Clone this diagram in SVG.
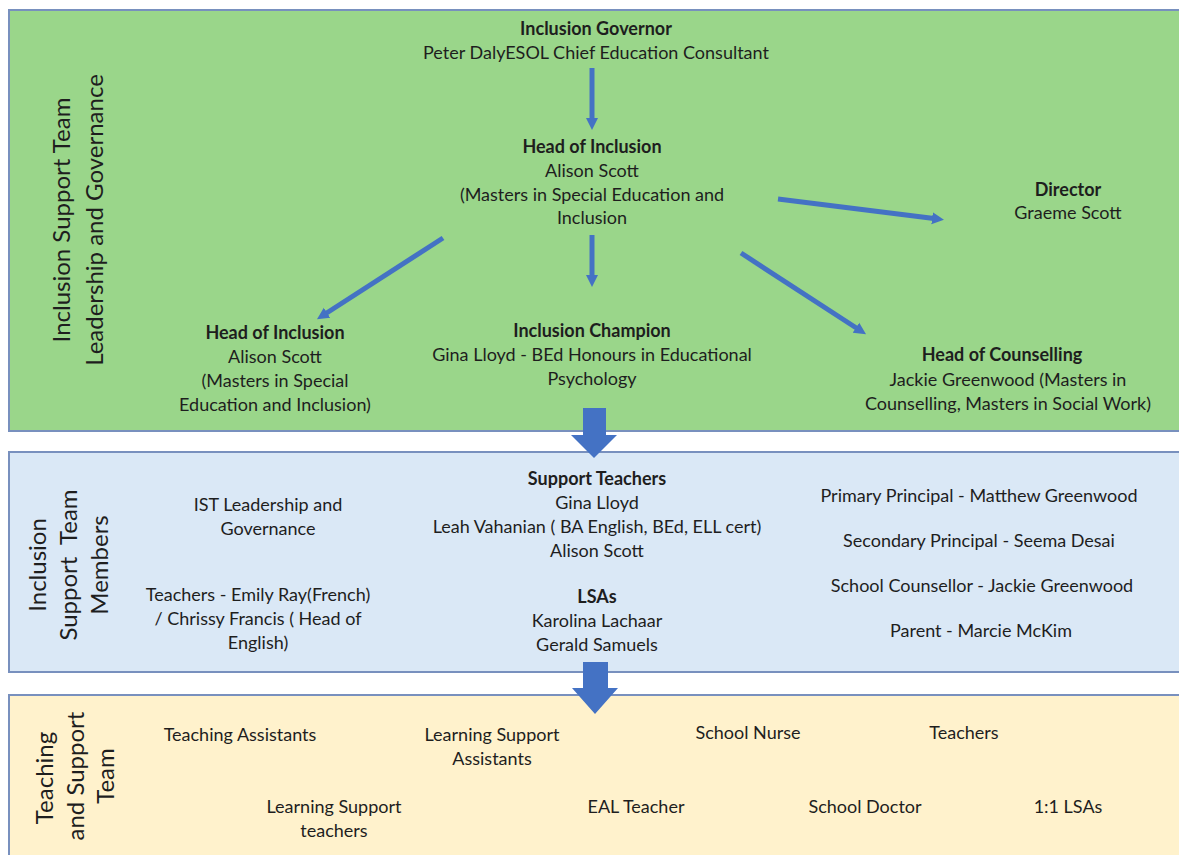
<svg xmlns="http://www.w3.org/2000/svg" width="1179" height="855" viewBox="0 0 1179 855">
<style>
  .t{font-family:Lato,"Liberation Sans",sans-serif;font-size:18px;fill:#1e1e1e;text-anchor:middle}
  .b{font-weight:bold}
  .lab{font-family:Lato,"Liberation Sans",sans-serif;font-size:24px;fill:#1e1e1e;text-anchor:middle}
  .band{stroke:#7890BE;stroke-width:2}
  .con{stroke:#4472C4;stroke-width:5;fill:none;marker-end:url(#ah)}
  .big{fill:#4472C4}
</style>
<defs>
  <marker id="ah" markerUnits="userSpaceOnUse" markerWidth="14" markerHeight="14" refX="6" refY="7" orient="auto">
    <path d="M0,1 L12,7 L0,13 Z" fill="#4472C4"/>
  </marker>
</defs>
<rect width="1179" height="855" fill="#ffffff"/>
<g id="band-leadership">
  <rect class="band" x="9" y="10" width="1180" height="421" fill="#9AD68A"/>
  <text class="lab" transform="translate(70,220) rotate(-90)">Inclusion Support Team</text>
  <text class="lab" transform="translate(103,220) rotate(-90)">Leadership and Governance</text>
</g>
<g id="band-members">
  <rect class="band" x="9" y="452" width="1180" height="220" fill="#DAE8F6"/>
  <text class="lab" transform="translate(46,565) rotate(-90)">Inclusion</text>
  <text class="lab" transform="translate(77,565) rotate(-90)" xml:space="preserve" style="white-space:pre">Support  Team</text>
  <text class="lab" transform="translate(108,565) rotate(-90)">Members</text>
</g>
<g id="band-teaching">
  <rect class="band" x="9" y="695" width="1180" height="180" fill="#FFF2CC"/>
  <text class="lab" transform="translate(53,778) rotate(-90)">Teaching</text>
  <text class="lab" transform="translate(84,776) rotate(-90)">and Support</text>
  <text class="lab" transform="translate(114,776) rotate(-90)">Team</text>
</g>
<g id="connectors">
  <line class="con" x1="592" y1="68" x2="592" y2="124"/>
  <line class="con" x1="778" y1="199" x2="938" y2="219"/>
  <line class="con" x1="443" y1="238" x2="322" y2="316"/>
  <line class="con" x1="592" y1="235" x2="592" y2="281"/>
  <line class="con" x1="741" y1="253" x2="861" y2="331"/>
  <path class="big" d="M583,408 H606 V435 H617 L594,458 L571,435 H583 Z"/>
  <path class="big" d="M583,662 H608 V688 H618 L595,714 L572,688 H583 Z"/>
</g>
<g id="inclusion-governor">
  <text class="t b" x="596" y="35">Inclusion Governor</text>
  <text class="t" x="596" y="59">Peter DalyESOL Chief Education Consultant</text>
</g>
<g id="head-of-inclusion">
  <text class="t b" x="592" y="153">Head of Inclusion</text>
  <text class="t" x="592" y="177">Alison Scott</text>
  <text class="t" x="592" y="201">(Masters in Special Education and</text>
  <text class="t" x="592" y="224">Inclusion</text>
</g>
<g id="director">
  <text class="t b" x="1068" y="196">Director</text>
  <text class="t" x="1068" y="219">Graeme Scott</text>
</g>
<g id="head-of-inclusion-2">
  <text class="t b" x="275" y="339">Head of Inclusion</text>
  <text class="t" x="275" y="363">Alison Scott</text>
  <text class="t" x="275" y="387">(Masters in Special</text>
  <text class="t" x="275" y="411">Education and Inclusion)</text>
</g>
<g id="inclusion-champion">
  <text class="t b" x="592" y="337">Inclusion Champion</text>
  <text class="t" x="592" y="361">Gina Lloyd - BEd Honours in Educational</text>
  <text class="t" x="592" y="385">Psychology</text>
</g>
<g id="head-of-counselling">
  <text class="t b" x="1002" y="361">Head of Counselling</text>
  <text class="t" x="1008" y="386">Jackie Greenwood (Masters in</text>
  <text class="t" x="1008" y="410">Counselling, Masters in Social Work)</text>
</g>
<g id="ist-leadership">
  <text class="t" x="268" y="511">IST Leadership and</text>
  <text class="t" x="268" y="535">Governance</text>
</g>
<g id="teachers-members">
  <text class="t" x="258" y="601">Teachers - Emily Ray(French)</text>
  <text class="t" x="258" y="625">/ Chrissy Francis ( Head of</text>
  <text class="t" x="258" y="649">English)</text>
</g>
<g id="support-teachers">
  <text class="t b" x="597" y="485">Support Teachers</text>
  <text class="t" x="597" y="509">Gina Lloyd</text>
  <text class="t" x="597" y="533">Leah Vahanian ( BA English, BEd, ELL cert)</text>
  <text class="t" x="597" y="557">Alison Scott</text>
</g>
<g id="lsas">
  <text class="t b" x="597" y="603">LSAs</text>
  <text class="t" x="597" y="627">Karolina Lachaar</text>
  <text class="t" x="597" y="651">Gerald Samuels</text>
</g>
<g id="primary-principal"><text class="t" x="979" y="502">Primary Principal - Matthew Greenwood</text></g>
<g id="secondary-principal"><text class="t" x="979" y="547">Secondary Principal - Seema Desai</text></g>
<g id="school-counsellor"><text class="t" x="982" y="592">School Counsellor - Jackie Greenwood</text></g>
<g id="parent"><text class="t" x="981" y="637">Parent - Marcie McKim</text></g>
<g id="teaching-assistants"><text class="t" x="240" y="741">Teaching Assistants</text></g>
<g id="learning-support-assistants">
  <text class="t" x="492" y="741">Learning Support</text>
  <text class="t" x="492" y="765">Assistants</text>
</g>
<g id="school-nurse"><text class="t" x="748" y="739">School Nurse</text></g>
<g id="teachers"><text class="t" x="964" y="739">Teachers</text></g>
<g id="learning-support-teachers">
  <text class="t" x="334" y="813">Learning Support</text>
  <text class="t" x="334" y="837">teachers</text>
</g>
<g id="eal-teacher"><text class="t" x="636" y="813">EAL Teacher</text></g>
<g id="school-doctor"><text class="t" x="865" y="813">School Doctor</text></g>
<g id="one-to-one-lsas"><text class="t" x="1068" y="813">1:1 LSAs</text></g>
</svg>
